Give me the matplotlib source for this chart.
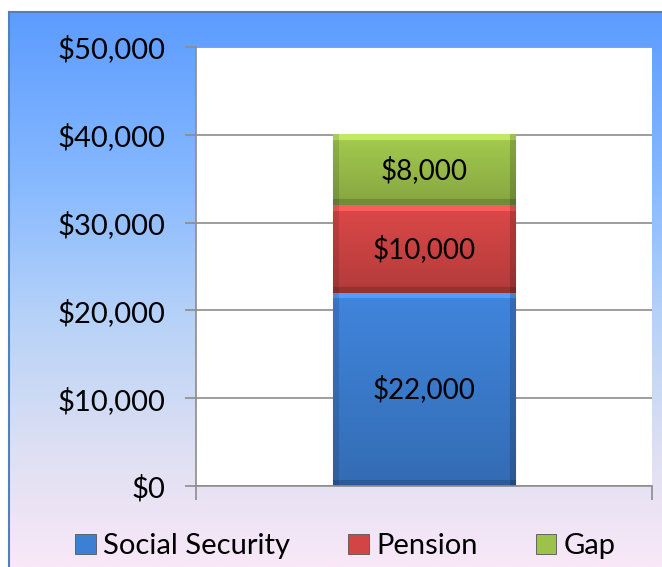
import numpy as np
import matplotlib.pyplot as plt
from matplotlib.patches import Patch
from matplotlib.colors import LinearSegmentedColormap, to_rgb

plt.rcParams['font.family'] = ['Lato', 'DejaVu Sans']

# data
series = ['Social Security', 'Pension', 'Gap']
values = [22000, 10000, 8000]
colors = ['#3d7fd3', '#d24545', '#9dc24c']
yticks = [0, 10000, 20000, 30000, 40000, 50000]

W, H = 6.62, 5.67
fig = plt.figure(figsize=(W, H), dpi=100)

# background gradient
bg = fig.add_axes([9 / 662, 0, 1 - 9 / 662, 1 - 12 / 567])
cmap = LinearSegmentedColormap.from_list(
    'bg', [(0, '#f9e8f8'), (0.2, '#dfe0f2'), (0.45, '#b6d2f8'), (0.7, '#86b8ff'), (1, '#5c9cff')])
grad = np.linspace(0, 1, 256).reshape(-1, 1)
bg.imshow(grad, aspect='auto', cmap=cmap, origin='lower', extent=[0, 1, 0, 1])
bg.set_xticks([])
bg.set_yticks([])
for s in ['right', 'bottom']:
    bg.spines[s].set_visible(False)
for s in ['left', 'top']:
    bg.spines[s].set_color('#4f81bd')
    bg.spines[s].set_linewidth(1.5)

ax = fig.add_axes([196 / 662, 1 - 486 / 567, 456 / 662, 439 / 567])
ax.set_facecolor('white')
ax.set_xlim(-0.5, 0.5)
ax.set_ylim(0, 50000)
ax.set_yticks(yticks)
ax.set_yticklabels(['${:,.0f}'.format(v) for v in yticks])
ax.yaxis.grid(True, color='#8c8c8c', linewidth=1.2)
ax.set_axisbelow(True)
ax.set_xticks([-0.5, 0.5])
ax.set_xticklabels(['', ''])
ax.tick_params(axis='y', length=8, width=1.2, color='#8c8c8c', pad=14, labelsize=21)
ax.tick_params(axis='x', length=10, width=1.2, color='#8c8c8c')
for s in ['top', 'right']:
    ax.spines[s].set_visible(False)
for s in ['left', 'bottom']:
    ax.spines[s].set_color('#8c8c8c')
    ax.spines[s].set_linewidth(1.2)


def bevel(c, h, w, b=6):
    # shaded fill with a light top edge and darker sides/bottom
    base = np.array(to_rgb(c))
    img = np.ones((h, w, 3)) * base
    yy = np.linspace(0, 1, h).reshape(-1, 1)
    img = img * (1.05 - 0.2 * yy)[..., None]
    img[:b, :, :] = np.clip(base * 1.12 + 0.06, 0, 1)
    img[-b:, :, :] = base * 0.72
    img[:, :b, :] = img[:, :b, :] * 0.88
    img[:, -b:, :] = img[:, -b:, :] * 0.82
    return np.clip(img, 0, 1)


bottom = 0
for name, v, c in zip(series, values, colors):
    bars = ax.bar(0, v, width=0.4, bottom=bottom, color=c, edgecolor='#7a7a7a', linewidth=0.8, zorder=2)
    r = bars[0]
    x0, y0, bw, bh = r.get_x(), r.get_y(), r.get_width(), r.get_height()
    p0 = ax.transData.transform((x0, y0))
    p1 = ax.transData.transform((x0 + bw, y0 + bh))
    npx_w = max(int(p1[0] - p0[0]), 2)
    npx_h = max(int(p1[1] - p0[1]), 2)
    ax.imshow(bevel(c, npx_h, npx_w), extent=[x0, x0 + bw, y0, y0 + bh],
              aspect='auto', origin='upper', zorder=2.5, interpolation='bilinear')
    ax.text(0, bottom + v / 2, '${:,.0f}'.format(v), ha='center', va='center',
            fontsize=20, color='black', zorder=4)
    bottom += v
ax.set_xlim(-0.5, 0.5)
ax.set_ylim(0, 50000)

handles = [Patch(facecolor=c, edgecolor='#555555', linewidth=0.6) for c in colors]
fig.legend(handles, series, loc='center', bbox_to_anchor=(0.522, 21 / 567), ncol=3,
           frameon=False, fontsize=21, handlelength=0.7, handleheight=0.7,
           handletextpad=0.25, columnspacing=2.0)

fig.savefig('out.png', dpi=100)
